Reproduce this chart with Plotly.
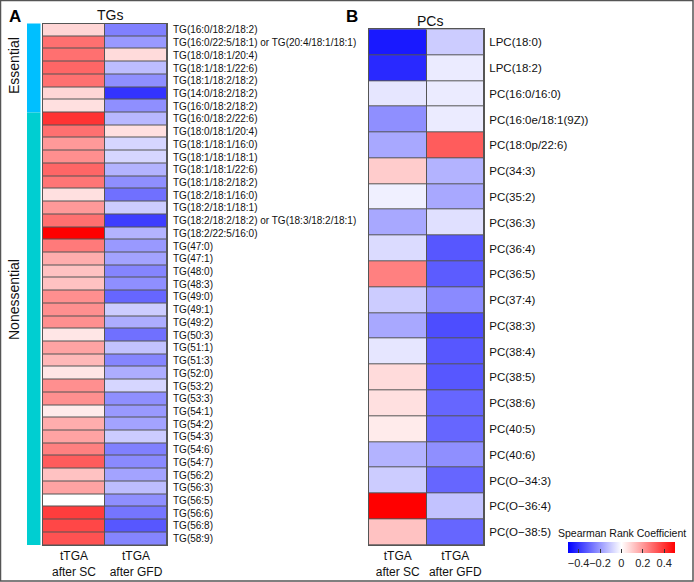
import plotly.graph_objects as go

tg_labels = [
    "TG(16:0/18:2/18:2)", "TG(16:0/22:5/18:1) or TG(20:4/18:1/18:1)", "TG(18:0/18:1/20:4)",
    "TG(18:1/18:1/22:6)", "TG(18:1/18:2/18:2)", "TG(14:0/18:2/18:2)", "TG(16:0/18:2/18:2) ",
    "TG(16:0/18:2/22:6)", "TG(18:0/18:1/20:4) ", "TG(18:1/18:1/16:0)", "TG(18:1/18:1/18:1)",
    "TG(18:1/18:1/22:6) ", "TG(18:1/18:2/18:2) ", "TG(18:2/18:1/16:0)", "TG(18:2/18:1/18:1)",
    "TG(18:2/18:2/18:2) or TG(18:3/18:2/18:1)", "TG(18:2/22:5/16:0)", "TG(47:0)", "TG(47:1)",
    "TG(48:0)", "TG(48:3)", "TG(49:0)", "TG(49:1)", "TG(49:2)", "TG(50:3)", "TG(51:1)",
    "TG(51:3)", "TG(52:0)", "TG(53:2)", "TG(53:3)", "TG(54:1)", "TG(54:2)", "TG(54:3)",
    "TG(54:6)", "TG(54:7)", "TG(56:2)", "TG(56:3)", "TG(56:5)", "TG(56:6)", "TG(56:8)", "TG(58:9)",
]
tg_sc = [0.08, 0.28, 0.28, 0.30, 0.28, 0.08, 0.06, 0.40, 0.28, 0.20, 0.22, 0.30, 0.27, 0.06,
         0.20, 0.28, 0.50, 0.26, 0.16, 0.12, 0.12, 0.22, 0.22, 0.22, 0.05, 0.18, 0.14, 0.05,
         0.22, 0.22, 0.04, 0.16, 0.18, 0.25, 0.32, 0.12, 0.18, 0.0, 0.38, 0.36, 0.34]
tg_gfd = [-0.25, -0.20, 0.07, -0.13, -0.22, -0.40, -0.22, -0.14, 0.06, -0.08, -0.08, -0.15,
          -0.22, -0.28, -0.10, -0.38, -0.15, -0.20, -0.18, -0.24, -0.22, -0.30, -0.10, -0.16,
          -0.28, -0.12, -0.24, -0.16, -0.08, -0.22, -0.20, -0.18, -0.10, -0.25, -0.23, -0.18,
          -0.13, -0.22, -0.27, -0.33, -0.24]

pc_labels = ["LPC(18:0)", "LPC(18:2)", "PC(16:0/16:0)", "PC(16:0e/18:1(9Z))", "PC(18:0p/22:6)",
             "PC(34:3)", "PC(35:2)", "PC(36:3)", "PC(36:4)", "PC(36:5)", "PC(37:4)", "PC(38:3)",
             "PC(38:4)", "PC(38:5)", "PC(38:6)", "PC(40:5)", "PC(40:6)", "PC(O\u221234:3)",
             "PC(O\u221236:4)", "PC(O\u221238:5)"]
pc_sc = [-0.45, -0.42, -0.05, -0.22, -0.17, 0.10, -0.03, -0.17, -0.07, 0.25, -0.10, -0.17,
         -0.05, 0.07, 0.06, 0.04, -0.15, -0.10, 0.50, 0.12]
pc_gfd = [-0.10, -0.04, -0.04, -0.04, 0.32, -0.15, -0.17, -0.06, -0.33, -0.32, -0.23, -0.35,
          -0.33, -0.33, -0.30, -0.30, -0.22, -0.30, -0.12, -0.30]

groups = ["tTGA<br>after SC", "tTGA<br>after GFD"]
cbar_ticks = [-0.4, -0.2, 0, 0.2, 0.4]
cbar_ticktext = ["\u22120.4", "\u22120.2", "0", "0.2", "0.4"]
n_essential = 7

W, H = 694, 582
def px(x): return x / W
def py(y): return 1 - y / H

scale = [[0, "#0000FF"], [0.5, "#FFFFFF"], [1, "#FF0000"]]
FONT = "Arial, Liberation Sans, sans-serif"

fig = go.Figure()
fig.add_trace(go.Heatmap(
    z=[[a, b] for a, b in zip(tg_sc, tg_gfd)], x=groups, y=tg_labels,
    colorscale=scale, zmin=-0.5, zmax=0.5, xgap=1, ygap=1, showscale=False,
    xaxis="x", yaxis="y"))
fig.add_trace(go.Heatmap(
    z=[[a, b] for a, b in zip(pc_sc, pc_gfd)], x=groups, y=pc_labels,
    colorscale=scale, zmin=-0.5, zmax=0.5, xgap=1, ygap=1, showscale=True,
    xaxis="x2", yaxis="y2",
    colorbar=dict(orientation="h", x=px(621.4), xanchor="center", y=py(542), yanchor="top",
                  len=px(107), lenmode="fraction", thickness=11, outlinewidth=0,
                  tickvals=cbar_ticks, ticktext=cbar_ticktext, tickangle=0,
                  ticks="inside", ticklen=4, tickcolor="#333",
                  tickfont=dict(size=11, color="#222", family=FONT), xpad=0, ypad=0)))

axis_common = dict(showline=True, mirror=True, linecolor="#555", linewidth=1, showgrid=False,
                   zeroline=False, ticks="", fixedrange=True)
fig.update_layout(
    width=W, height=H, margin=dict(l=0, r=0, t=0, b=0, autoexpand=False),
    paper_bgcolor="white", plot_bgcolor="#555",
    font=dict(family=FONT, color="#111"),
    xaxis=dict(domain=[px(43), px(167)], anchor="y", side="bottom",
               tickfont=dict(size=12), **axis_common),
    yaxis=dict(domain=[py(545), py(23.5)], anchor="x", side="right", autorange="reversed",
               tickmode="array", tickvals=tg_labels,
               tickfont=dict(size=10), ticklabelstandoff=3, **axis_common),
    xaxis2=dict(domain=[px(369), px(484)], anchor="y2", side="bottom",
                tickfont=dict(size=12), **axis_common),
    yaxis2=dict(domain=[py(545), py(29.3)], anchor="x2", side="right", autorange="reversed",
                tickmode="array", tickvals=pc_labels,
                tickfont=dict(size=11.5), ticklabelstandoff=2, **axis_common),
)

row_h = (545 - 23.5) / len(tg_labels)
ess_bottom = 23.5 + n_essential * row_h
shapes = [
    dict(type="rect", xref="paper", yref="paper", x0=px(27), x1=px(40.5), y0=py(ess_bottom), y1=py(23.5),
         fillcolor="#00BFFF", line=dict(width=0)),
    dict(type="rect", xref="paper", yref="paper", x0=px(27), x1=px(40.5), y0=py(545), y1=py(ess_bottom),
         fillcolor="#00CED1", line=dict(width=0)),
    dict(type="rect", xref="paper", yref="paper", x0=px(0.5), x1=px(693), y0=py(581), y1=py(0.5),
         line=dict(color="#555", width=1.5)),
]
fig.update_layout(shapes=shapes)

ann = [
    dict(text="<b>A</b>", x=px(15), y=py(16), font=dict(size=17, color="#000")),
    dict(text="<b>B</b>", x=px(352), y=py(16), font=dict(size=17, color="#000")),
    dict(text="TGs", x=px(110), y=py(15), font=dict(size=14)),
    dict(text="PCs", x=px(430), y=py(21), font=dict(size=14)),
    dict(text="Essential", x=px(14), y=py(66), textangle=-90, font=dict(size=14)),
    dict(text="Nonessential", x=px(14), y=py(300), textangle=-90, font=dict(size=14)),
    dict(text="Spearman Rank Coefficient", x=px(622), y=py(533), font=dict(size=10.5)),
]
for a in ann:
    a.update(xref="paper", yref="paper", showarrow=False, xanchor="center", yanchor="middle")
fig.update_layout(annotations=ann)

fig.write_html("out.html", post_script="document.body.style.margin='0';",
               config={"displayModeBar": False})
